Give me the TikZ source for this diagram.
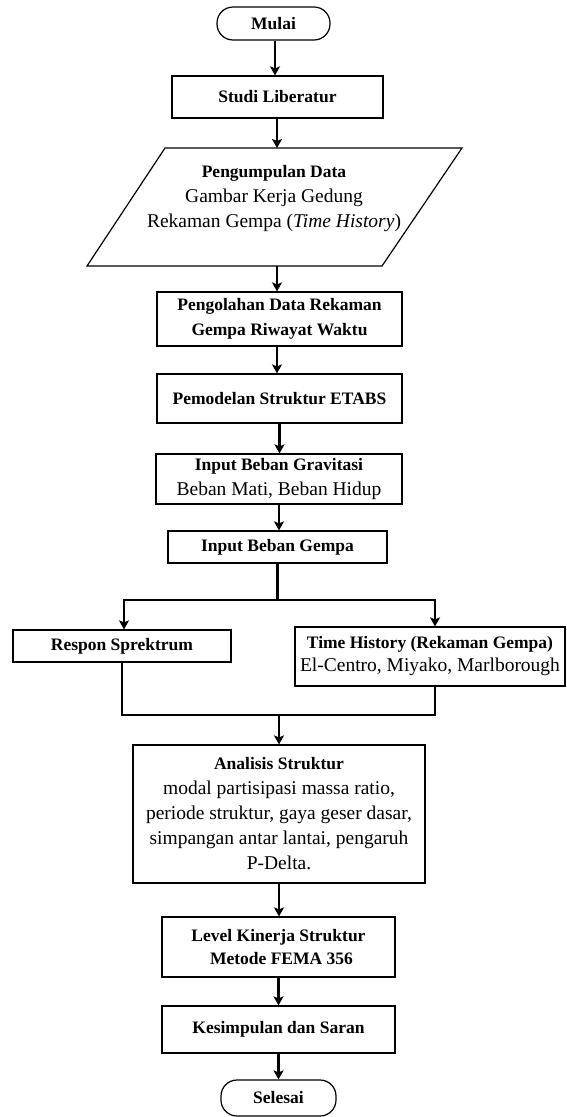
\documentclass[tikz,border=0pt]{standalone}
\usepackage{fontspec}
\setmainfont{Liberation Serif}
\usetikzlibrary{arrows.meta,calc}
\newcommand\regline[1]{{\fontsize{19.5}{25}\selectfont\mdseries #1}}
\begin{document}
\begin{tikzpicture}[x=1pt,y=-1pt,
  box/.style={draw, line width=1.2pt, inner sep=0pt, align=center, font=\fontsize{17.5}{25}\selectfont\bfseries},
  term/.style={box, rounded corners=16pt},
  txt/.style={inner sep=0pt, align=center, font=\fontsize{17.5}{25}\selectfont\bfseries},
  arr/.style={line width=2.4pt, -{Stealth[length=9pt,width=10pt,inset=2pt]}},
  link/.style={line width=2.6pt, line join=miter}]
\useasboundingbox (0,0) rectangle (566,1117);

\node[term, minimum width=113pt, minimum height=33pt] (mulai) at (273.5,23.5) {Mulai};
\node[box, minimum width=211pt, minimum height=42pt] (studi) at (277.5,97) {Studi Liberatur};

\draw[line width=1.2pt] (165,148) -- (462,148) -- (382,266) -- (87,266) -- cycle;
\node[txt] (data) at (274,199) {Pengumpulan Data\\ \regline{Gambar Kerja Gedung}\\ \regline{Rekaman Gempa (\textit{Time History})}};
\coordinate (dtop) at (277,148);
\coordinate (dbot) at (277,266);

\node[box, minimum width=245pt, minimum height=54pt] (olah) at (279.5,319) {Pengolahan Data Rekaman\\Gempa Riwayat Waktu};
\node[box, minimum width=245pt, minimum height=49pt] (model) at (279.5,398.5) {Pemodelan Struktur ETABS};
\node[box, minimum width=246pt, minimum height=50pt] (grav) at (279,479) {Input Beban Gravitasi\\ \regline{Beban Mati, Beban Hidup}};
\node[box, minimum width=219pt, minimum height=32pt] (gempa) at (277.5,547) {Input Beban Gempa};
\node[box, minimum width=218pt, minimum height=32pt] (respon) at (122,646) {Respon Sprektrum};
\node[box, minimum width=270pt, minimum height=59pt] (time) at (430,656.5) {Time History (Rekaman Gempa)\\[-2pt] \regline{El-Centro, Miyako, Marlborough}};
\node[box, minimum width=292pt, minimum height=138pt] (anal) at (279,814) {Analisis Struktur\\ \regline{modal partisipasi massa ratio,}\\ \regline{periode struktur, gaya geser dasar,}\\ \regline{simpangan antar lantai, pengaruh}\\ \regline{P-Delta.}};
\node[box, minimum width=233pt, minimum height=60pt] (level) at (278.5,947) {Level Kinerja Struktur\\[-2pt] \hspace*{6pt}Metode FEMA 356};
\node[box, minimum width=233pt, minimum height=47pt] (simpul) at (278.5,1029.5) {Kesimpulan dan Saran};
\node[term, minimum width=115pt, minimum height=36pt] (selesai) at (278.5,1098) {Selesai};

\draw[arr] ([xshift=1.5pt]mulai.south) -- ([xshift=1.5pt]mulai.south |- studi.north);
\draw[arr] (studi.south -| dtop) -- (dtop);
\draw[arr] (dbot) -- (dbot |- olah.north);
\draw[arr] (olah.south -| dbot) -- (dbot |- model.north);
\draw[arr] (model.south) -- (model.south |- grav.north);
\draw[arr] (grav.south) -- (grav.south |- gempa.north);

\coordinate (split) at (277.5,600);
\draw[link] (gempa.south) -- (split);
\draw[arr, line join=miter] (split) -| ([xshift=2pt]respon.north);
\draw[arr, line join=miter] (split) -| ([xshift=5pt]time.north);

\coordinate (join) at (279,715);
\draw[link] (respon.south) |- (join);
\draw[link] ([xshift=5pt]time.south) |- (join);
\draw[arr] (join) -- (anal.north);

\draw[arr] (anal.south) -- (anal.south |- level.north);
\draw[arr] (level.south) -- (level.south |- simpul.north);
\draw[arr] (simpul.south) -- (simpul.south |- selesai.north);
\end{tikzpicture}
\end{document}
